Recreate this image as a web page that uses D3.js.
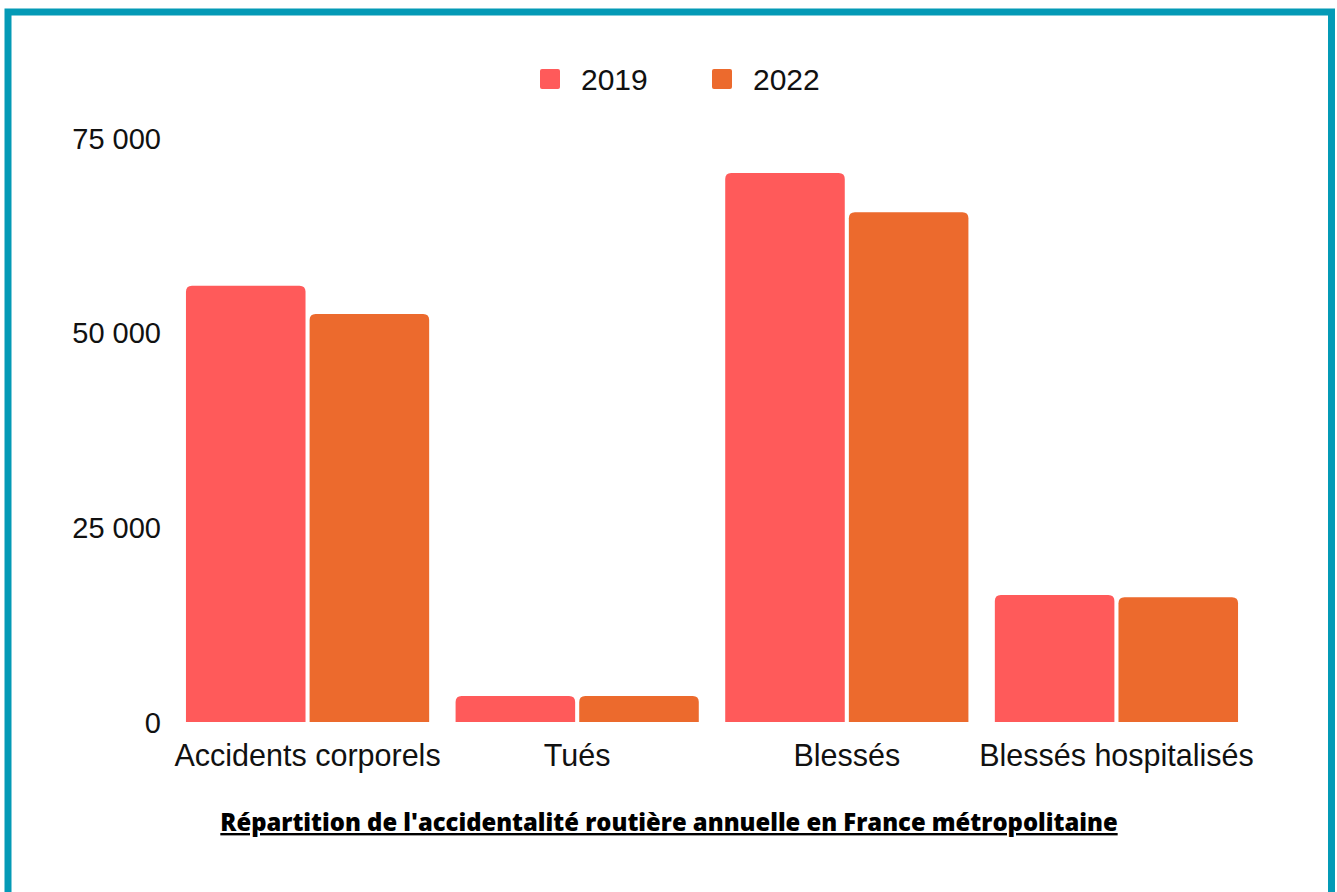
<!DOCTYPE html>
<html>
<head>
<meta charset="utf-8">
<script src="https://cdn.jsdelivr.net/npm/d3@7"></script>
<style>
  html, body { margin: 0; padding: 0; background: #fff; }
  svg { display: block; }
  text { font-family: "Liberation Sans", Arial, sans-serif; fill: #111; }
</style>
</head>
<body>
<div class="chart"></div>
<script>
//chart data
var categories = ["Accidents corporels", "Tués", "Blessés", "Blessés hospitalisés"];
var seriesNames = ["2019", "2022"];
var values2019 = [56030, 3340, 70500, 16310];
var values2022 = [52400, 3350, 65450, 16020];
var yTicks = [0, 25000, 50000, 75000];
var title = "Répartition de l'accidentalité routière annuelle en France métropolitaine";

//set global variables
var width = 1337,
    height = 892,
    colors = ["#FF5A5A", "#EC6A2D"],
    frameColor = "#049AB6";

var svg = d3.select(".chart").append("svg")
            .attr("width", width)
            .attr("height", height);

//frame
svg.append("rect")
   .attr("x", 8)
   .attr("y", 12)
   .attr("width", 1323.5)
   .attr("height", 910)
   .attr("fill", "none")
   .attr("stroke", frameColor)
   .attr("stroke-width", 7);

//scales
var x0 = d3.scaleBand()
           .domain(categories)
           .range([172.75, 1251.25])
           .paddingInner(0.098)
           .paddingOuter(0.049);

var x1 = d3.scaleBand()
           .domain(seriesNames)
           .range([0, x0.bandwidth()])
           .paddingInner(0.033);

var y = d3.scaleLinear()
          .domain([0, 75000])
          .range([722, 138]);

var fmt = function(d) {
  return d3.format(",")(d).replace(/,/g, " ");
};

//y axis, labels only
var yAxis = d3.axisLeft(y)
              .tickValues(yTicks)
              .tickFormat(fmt)
              .tickSize(0)
              .tickPadding(0);

var yAxisGroup = svg.append("g")
                    .attr("transform", "translate(161, 0)")
                    .call(yAxis);
yAxisGroup.select(".domain").remove();
yAxisGroup.selectAll("text")
          .attr("dy", "0.35em")
          .style("font-family", "'Liberation Sans', Arial, sans-serif")
          .style("font-size", "29px")
          .style("fill", "#111");

//x axis, labels only
var xAxis = d3.axisBottom(x0).tickSize(0).tickPadding(0);
var xAxisGroup = svg.append("g")
                    .attr("transform", "translate(0, 766)")
                    .call(xAxis);
xAxisGroup.select(".domain").remove();
xAxisGroup.selectAll("text")
          .attr("dy", 0)
          .attr("y", 0)
          .style("font-family", "'Liberation Sans', Arial, sans-serif")
          .style("font-size", "30.5px")
          .style("fill", "#111");

//bars with rounded top corners
function topRounded(x, yTop, w, h, r) {
  r = Math.min(r, h, w / 2);
  return "M" + x + "," + (yTop + h) +
         "V" + (yTop + r) +
         "Q" + x + "," + yTop + " " + (x + r) + "," + yTop +
         "H" + (x + w - r) +
         "Q" + (x + w) + "," + yTop + " " + (x + w) + "," + (yTop + r) +
         "V" + (yTop + h) + "Z";
}

var series = [values2019, values2022];
var groups = svg.selectAll(".group")
                .data(categories)
                .enter()
                .append("g")
                .attr("class", "group")
                .attr("transform", function(d) { return "translate(" + x0(d) + ",0)"; });

groups.selectAll("path")
      .data(function(d, i) {
        return seriesNames.map(function(s, j) { return { key: s, value: series[j][i], idx: j }; });
      })
      .enter()
      .append("path")
      .attr("d", function(d) {
        return topRounded(x1(d.key), y(d.value), x1.bandwidth(), y(0) - y(d.value), 6);
      })
      .attr("fill", function(d) { return colors[d.idx]; });

//legend
var legendX = [540, 712];
var legend = svg.selectAll(".legend")
                .data(seriesNames)
                .enter()
                .append("g")
                .attr("class", "legend")
                .attr("transform", function(d, i) { return "translate(" + legendX[i] + ",69)"; });

legend.append("rect")
      .attr("width", 20)
      .attr("height", 20)
      .attr("rx", 2)
      .attr("fill", function(d, i) { return colors[i]; });

legend.append("text")
      .attr("x", 41)
      .attr("y", 21)
      .style("font-size", "30px")
      .text(function(d) { return d; });

//footer title
var titleText = svg.append("text")
   .attr("x", 669)
   .attr("y", 831)
   .attr("text-anchor", "middle")
   .style("font-family", "'Open Sans', Lato, sans-serif")
   .style("font-weight", "800")
   .style("font-size", "22px")
   .style("text-decoration", "underline")
   .style("fill", "#000")
   .text(title);

//fit title width to the reference
var tw = titleText.node().getComputedTextLength();
titleText.style("font-size", (22 * 898 / tw) + "px");
</script>
</body>
</html>
